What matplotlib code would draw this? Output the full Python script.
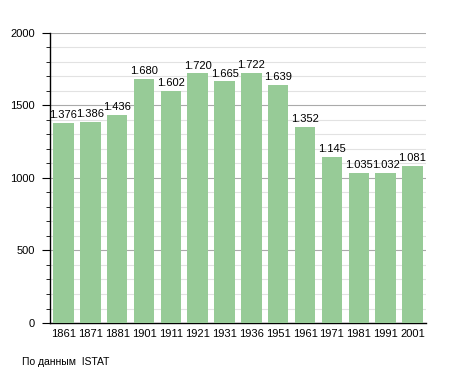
import numpy as np
import matplotlib.pyplot as plt
from matplotlib.ticker import MultipleLocator

plt.rcParams['font.family'] = ['Liberation Sans', 'DejaVu Sans']

years = ['1861', '1871', '1881', '1901', '1911', '1921', '1931',
         '1936', '1951', '1961', '1971', '1981', '1991', '2001']
population = [1376, 1386, 1436, 1680, 1602, 1720, 1665,
              1722, 1639, 1352, 1145, 1035, 1032, 1081]
labels = ['1.376', '1.386', '1.436', '1.680', '1.602', '1.720', '1.665',
          '1.722', '1.639', '1.352', '1.145', '1.035', '1.032', '1.081']

fig = plt.figure(figsize=(4.55, 3.73), dpi=100)
ax = fig.add_axes([0.11, 0.134, 0.826, 0.778])

x = np.arange(len(years))
ax.bar(x, population, width=0.76, color='#97cb97', zorder=3)

for xi, v, lab in zip(x, population, labels):
    ax.text(xi, v + 20, lab, ha='center', va='bottom', fontsize=8, zorder=4)

ax.set_xlim(-0.5, len(years) - 0.5)
ax.set_ylim(0, 2000)
ax.yaxis.set_major_locator(MultipleLocator(500))
ax.yaxis.set_minor_locator(MultipleLocator(100))
ax.grid(axis='y', which='minor', color='#e2e2e2', lw=0.8, zorder=0)
ax.grid(axis='y', which='major', color='#aaaaaa', lw=0.8, zorder=1)

ax.set_xticks(x)
ax.set_xticklabels(years, fontsize=8)
ax.tick_params(axis='x', length=0, pad=4)
ax.tick_params(axis='y', which='major', length=6, labelsize=8, pad=5)
ax.tick_params(axis='y', which='minor', length=3)

for s in ['top', 'right']:
    ax.spines[s].set_visible(False)
ax.spines['left'].set_linewidth(1.0)
ax.spines['bottom'].set_linewidth(1.0)

fig.text(0.048, 0.016, 'По данным  ISTAT', fontsize=7.5, ha='left', va='bottom')

fig.savefig('out.png', dpi=100)
